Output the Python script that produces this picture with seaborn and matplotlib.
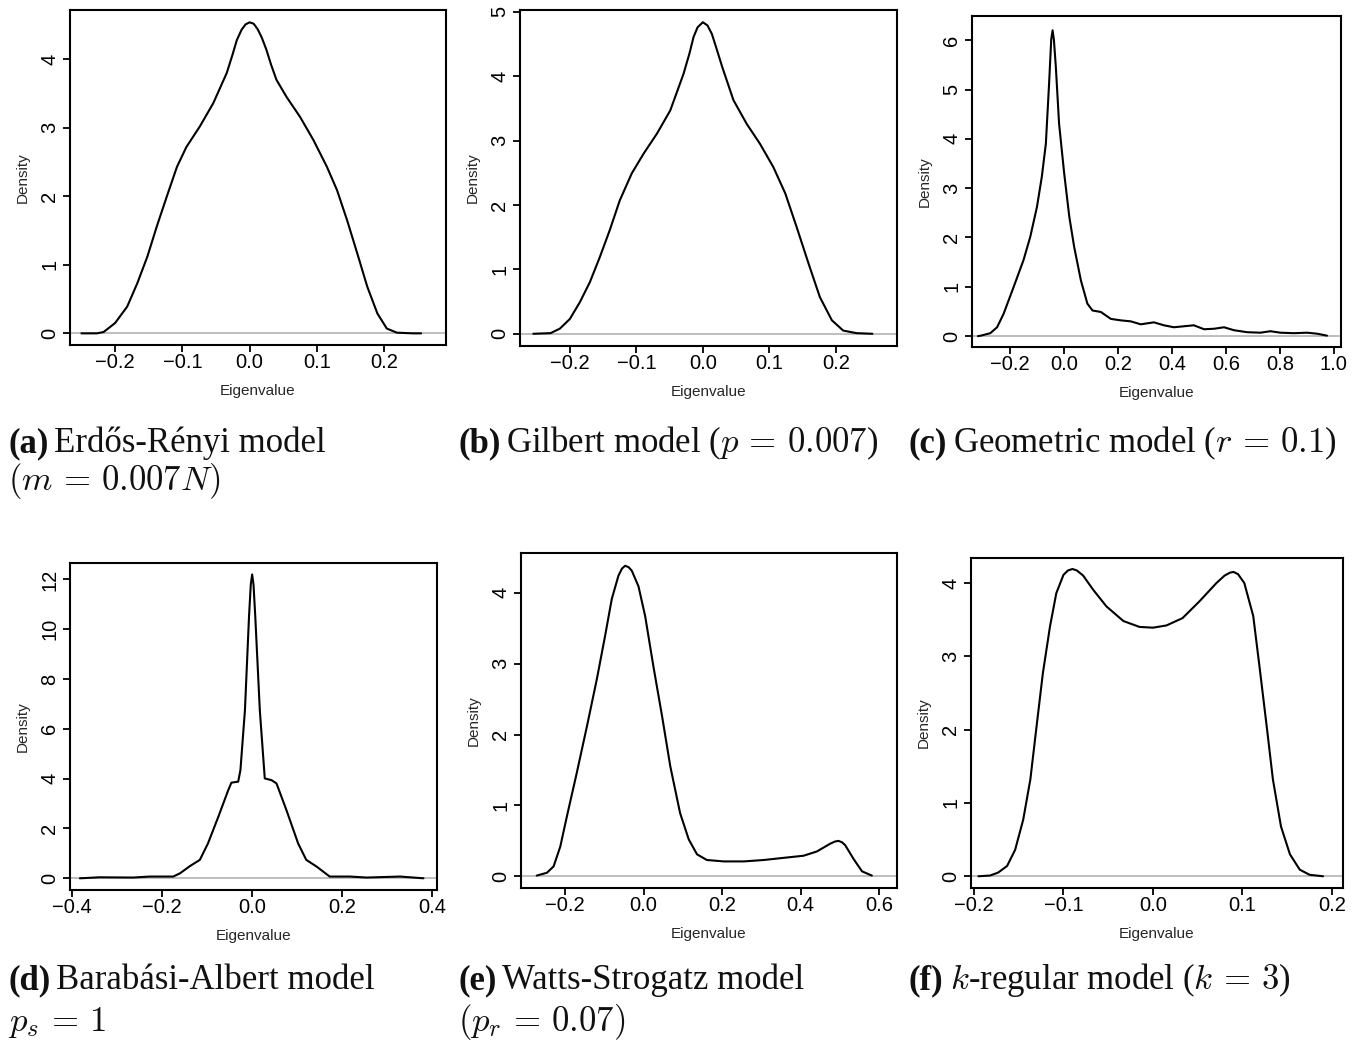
import matplotlib
matplotlib.use("Agg")
import matplotlib.pyplot as plt
import seaborn as sns

# ---------------- spectral densities (eigenvalue, density) ----------------
er_x = [-0.250, -0.227, -0.217, -0.200, -0.182, -0.167, -0.152, -0.138, -0.123, -0.108,
        -0.094, -0.074, -0.054, -0.034, -0.025, -0.019, -0.012, -0.006, 0.000, 0.006,
        0.012, 0.018, 0.025, 0.032, 0.040, 0.055, 0.075, 0.095, 0.115, 0.130,
        0.145, 0.160, 0.175, 0.190, 0.204, 0.219, 0.243, 0.255]
er_density = [0.00, 0.00, 0.02, 0.15, 0.39, 0.73, 1.12, 1.56, 2.00, 2.43,
              2.72, 3.02, 3.36, 3.80, 4.08, 4.28, 4.43, 4.51, 4.54, 4.52,
              4.44, 4.32, 4.14, 3.92, 3.70, 3.45, 3.16, 2.82, 2.43, 2.09,
              1.65, 1.17, 0.68, 0.29, 0.07, 0.01, 0.00, 0.00]

gilbert_x = [-0.255, -0.229, -0.215, -0.200, -0.185, -0.170, -0.155, -0.140, -0.125, -0.107,
             -0.089, -0.069, -0.049, -0.029, -0.020, -0.014, -0.008, 0.000, 0.007, 0.0135,
             0.020, 0.029, 0.046, 0.066, 0.086, 0.106, 0.124, 0.141, 0.159, 0.176,
             0.194, 0.211, 0.231, 0.255]
gilbert_density = [0.00, 0.01, 0.08, 0.23, 0.49, 0.80, 1.19, 1.61, 2.07, 2.49,
                   2.80, 3.11, 3.47, 4.04, 4.36, 4.61, 4.76, 4.84, 4.79, 4.66,
                   4.45, 4.15, 3.63, 3.26, 2.95, 2.59, 2.18, 1.66, 1.09, 0.57,
                   0.21, 0.05, 0.01, 0.00]

geometric_x = [-0.320, -0.309, -0.274, -0.249, -0.225, -0.188, -0.151, -0.126, -0.101, -0.083,
               -0.068, -0.056, -0.048, -0.043, -0.038, -0.031, -0.019, 0.000, 0.019, 0.037,
               0.062, 0.086, 0.105, 0.136, 0.173, 0.210, 0.247, 0.284, 0.333, 0.370,
               0.407, 0.444, 0.481, 0.519, 0.556, 0.593, 0.630, 0.679, 0.728, 0.765,
               0.802, 0.852, 0.901, 0.938, 0.975]
geometric_density = [0.00, 0.01, 0.06, 0.18, 0.45, 0.99, 1.54, 2.01, 2.62, 3.23,
                     3.90, 5.12, 6.02, 6.20, 6.00, 5.46, 4.31, 3.30, 2.42, 1.81,
                     1.13, 0.66, 0.52, 0.49, 0.35, 0.32, 0.30, 0.24, 0.28, 0.22,
                     0.18, 0.20, 0.22, 0.14, 0.15, 0.18, 0.12, 0.08, 0.07, 0.10,
                     0.07, 0.06, 0.07, 0.05, 0.01]

ba_x = [-0.382, -0.338, -0.264, -0.227, -0.175, -0.160, -0.138, -0.116, -0.098, -0.075,
        -0.053, -0.046, -0.031, -0.026, -0.016, -0.007, -0.003, 0.000, 0.003, 0.007,
        0.017, 0.028, 0.043, 0.054, 0.076, 0.102, 0.120, 0.143, 0.172, 0.217,
        0.254, 0.328, 0.380]
ba_density = [0.00, 0.04, 0.03, 0.07, 0.07, 0.20, 0.49, 0.74, 1.40, 2.47,
              3.54, 3.84, 3.88, 4.34, 6.75, 10.49, 11.80, 12.20, 11.80, 10.49,
              6.75, 4.01, 3.94, 3.81, 2.74, 1.40, 0.74, 0.47, 0.07, 0.07,
              0.03, 0.07, 0.00]

ws_x = [-0.272, -0.246, -0.229, -0.212, -0.195, -0.170, -0.144, -0.119, -0.098, -0.081,
        -0.064, -0.055, -0.047, -0.038, -0.030, -0.013, 0.004, 0.025, 0.047, 0.068,
        0.093, 0.115, 0.136, 0.161, 0.204, 0.255, 0.306, 0.356, 0.407, 0.441,
        0.475, 0.487, 0.496, 0.505, 0.513, 0.535, 0.556, 0.581]
ws_density = [0.01, 0.05, 0.14, 0.42, 0.85, 1.46, 2.12, 2.78, 3.39, 3.91,
              4.24, 4.34, 4.38, 4.36, 4.31, 4.09, 3.67, 2.96, 2.26, 1.55,
              0.89, 0.52, 0.31, 0.23, 0.21, 0.21, 0.23, 0.26, 0.29, 0.35,
              0.46, 0.49, 0.50, 0.48, 0.44, 0.24, 0.07, 0.01]

kreg_x = [-0.195, -0.182, -0.173, -0.163, -0.154, -0.145, -0.137, -0.130, -0.123, -0.115,
          -0.108, -0.100, -0.095, -0.090, -0.085, -0.078, -0.067, -0.052, -0.033, -0.015,
          0.000, 0.015, 0.033, 0.052, 0.071, 0.080, 0.086, 0.090, 0.095, 0.102,
          0.112, 0.119, 0.127, 0.134, 0.143, 0.153, 0.164, 0.175, 0.190]
kreg_density = [0.00, 0.01, 0.05, 0.14, 0.36, 0.77, 1.32, 2.05, 2.77, 3.41,
                3.86, 4.11, 4.17, 4.19, 4.17, 4.10, 3.91, 3.68, 3.48, 3.40,
                3.39, 3.42, 3.52, 3.75, 4.00, 4.10, 4.14, 4.15, 4.12, 4.00,
                3.55, 2.86, 2.05, 1.32, 0.68, 0.30, 0.09, 0.02, 0.00]

# ---------------- axis ticks ----------------
ticks_sym = [-0.2, -0.1, 0.0, 0.1, 0.2]
ticklabels_sym = ["\u22120.2", "\u22120.1", "0.0", "0.1", "0.2"]
ticks_geo = [-0.2, 0.0, 0.2, 0.4, 0.6, 0.8, 1.0]
ticklabels_geo = ["\u22120.2", "0.0", "0.2", "0.4", "0.6", "0.8", "1.0"]
ticks_ba = [-0.4, -0.2, 0.0, 0.2, 0.4]
ticklabels_ba = ["\u22120.4", "\u22120.2", "0.0", "0.2", "0.4"]
ticks_ws = [-0.2, 0.0, 0.2, 0.4, 0.6]
ticklabels_ws = ["\u22120.2", "0.0", "0.2", "0.4", "0.6"]

# ---------------- captions ----------------
caption_tags = ["(a)", "(b)", "(c)", "(d)", "(e)", "(f)"]
caption_line1 = ["Erdős-Rényi model", "Gilbert model ($p\\,=\\,0.007$)",
                 "Geometric model ($r\\,=\\,0.1$)", "Barabási-Albert model",
                 "Watts-Strogatz model", "$k$-regular model ($k\\,=\\,3$)"]
caption_line2 = ["$(m\\,=\\,0.007N)$", "", "", "$p_s\\,=\\,1$", "$(p_r\\,=\\,0.07)$", ""]

# ---------------- styling ----------------
sns.set_style("ticks")
plt.rcParams["font.family"] = ["Liberation Sans", "DejaVu Sans"]

W, H = 1359, 1043
fig = plt.figure(figsize=(W / 100, H / 100), dpi=100)
PT = 72 / 100  # pixels -> points


def add_panel(box, x, y, xlim, ylim, xticks, xticklabels, yticks):
    l, t, r, b = box
    ax = fig.add_axes([l / W, 1 - b / H, (r - l) / W, (b - t) / H])
    ax.axhline(0, color="#bebebe", lw=1.4, zorder=1)
    sns.lineplot(x=x, y=y, ax=ax, color="black", lw=1.5, zorder=2, sort=False)
    ax.set_xlim(xlim)
    ax.set_ylim(ylim)
    ax.set_xticks(xticks)
    ax.set_xticklabels(xticklabels)
    ax.set_yticks(yticks)
    ax.set_yticklabels([str(v) for v in yticks], rotation=90, va="center")
    ax.tick_params(direction="out", length=7 * PT, width=1.3, labelsize=14.5,
                   colors="black", top=False, right=False)
    ax.tick_params(axis="x", pad=0.5)
    ax.tick_params(axis="y", pad=2.7)
    ax.set_xlabel("")
    ax.set_ylabel("")
    for s in ax.spines.values():
        s.set_linewidth(1.5)
        s.set_color("black")
        s.set_visible(True)
    ax.annotate("Eigenvalue", xy=(0.5, 0), xycoords="axes fraction",
                xytext=(0, -46 * PT), textcoords="offset points",
                ha="center", va="center", fontsize=11)
    ax.annotate("Density", xy=(0, 0.5), xycoords="axes fraction",
                xytext=(-47 * PT, 0), textcoords="offset points",
                ha="center", va="center", rotation=90, fontsize=11)
    return ax


add_panel((70, 10, 446, 345), er_x, er_density, (-0.267, 0.292), (-0.17, 4.72),
          ticks_sym, ticklabels_sym, [0, 1, 2, 3, 4])
add_panel((520, 10, 897, 346), gilbert_x, gilbert_density, (-0.275, 0.292), (-0.19, 5.03),
          ticks_sym, ticklabels_sym, [0, 1, 2, 3, 4, 5])
add_panel((972, 16, 1341, 347), geometric_x, geometric_density, (-0.342, 1.027), (-0.22, 6.49),
          ticks_geo, ticklabels_geo, [0, 1, 2, 3, 4, 5, 6])
add_panel((70, 563, 437, 890), ba_x, ba_density, (-0.404, 0.41), (-0.47, 12.66),
          ticks_ba, ticklabels_ba, [0, 2, 4, 6, 8, 10, 12])
add_panel((521, 553, 897, 888), ws_x, ws_density, (-0.312, 0.645), (-0.165, 4.56),
          ticks_ws, ticklabels_ws, [0, 1, 2, 3, 4])
add_panel((971, 558, 1343, 888), kreg_x, kreg_density, (-0.2033, 0.2123), (-0.16, 4.34),
          ticks_sym, ticklabels_sym, [0, 1, 2, 3, 4])

# ---------------- captions below each panel ----------------
CAP = 25
renderer = fig.canvas.get_renderer()
caption_x = [8, 458, 909, 8, 458, 909]
caption_y1 = [452, 452, 452, 989, 989, 989]
caption_y2 = [490, 490, 490, 1031, 1031, 1031]

for tag, l1, l2, cx, y1, y2 in zip(caption_tags, caption_line1, caption_line2,
                                   caption_x, caption_y1, caption_y2):
    t = fig.text(cx / W, 1 - y1 / H, tag, fontsize=CAP, fontweight="bold",
                 family="Liberation Serif", va="baseline", ha="left", color="#111111")
    bb = t.get_window_extent(renderer)
    fig.text((bb.x1 + 6) / W, 1 - y1 / H, l1, fontsize=CAP, family="Liberation Serif",
             math_fontfamily="cm", va="baseline", ha="left", color="#111111")
    if l2:
        fig.text(cx / W, 1 - y2 / H, l2, fontsize=CAP, family="Liberation Serif",
                 math_fontfamily="cm", va="baseline", ha="left", color="#111111")

fig.savefig("out.png", dpi=100, facecolor="white")
